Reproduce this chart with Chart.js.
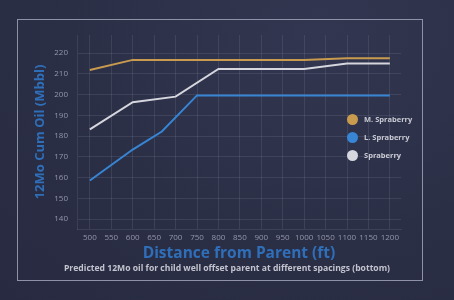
<!DOCTYPE html>
<html>
<head>
<meta charset="utf-8">
<script src="https://cdn.jsdelivr.net/npm/chart.js@4"></script>
<style>
  html, body { margin:0; padding:0; width:454px; height:300px; overflow:hidden; background:#2b2f46; }
  #wrap { position:relative; width:454px; height:300px;
    background: radial-gradient(ellipse at 70% 10%, #323650 0%, #2b2f46 55%, #272a40 100%); }
  #frame { position:absolute; left:17px; top:19px; width:406px; height:262px; border:1px solid #8f92a6; box-sizing:border-box; }
  canvas { position:absolute; left:0; top:0; }
  #legend { position:absolute; left:347px; top:110px; font-family:"Open Sans", sans-serif; font-weight:700; font-size:7.5px; color:#c9cad4; }
  #legend div { height:18px; display:flex; align-items:center; }
  #legend span.dot { display:inline-block; width:11px; height:11px; border-radius:50%; margin-right:6px; }
  #caption { position:absolute; left:0; width:454px; top:262px; text-align:center; font-family:"Open Sans", sans-serif; font-weight:700; font-size:8.6px; color:#c3c4cf; }
</style>
</head>
<body>
<div id="wrap">
  <div id="frame"></div>
  <canvas id="c" width="454" height="300"></canvas>
  <div id="legend"></div>
  <div id="caption">Predicted 12Mo oil for child well offset parent at different spacings (bottom)</div>
</div>
<script>
const xTicks = [500,550,600,650,700,750,800,850,900,950,1000,1050,1100,1150,1200];
const yTicks = [140,150,160,170,180,190,200,210,220];
const seriesNames = ["M. Spraberry","L. Spraberry","Spraberry"];
const mSprabX = [500,600,1000,1100,1200];
const mSprabY = [211.8,216.7,216.7,217.5,217.5];
const lSprabX = [500,600,668,750,1200];
const lSprabY = [158.6,173.5,182.2,199.6,199.6];
const sprabX  = [500,600,700,800,1000,1100,1200];
const sprabY  = [183.2,196.3,199.0,212.3,212.3,215.0,215.0];
const colors = ["#c99b4f","#3785d4","#d6d6de"];

const zip = (xs, ys) => xs.map((x,i)=>({x:x, y:ys[i]}));

const ds = [
  {label:seriesNames[0], data:zip(mSprabX,mSprabY), borderColor:colors[0], backgroundColor:colors[0]},
  {label:seriesNames[1], data:zip(lSprabX,lSprabY), borderColor:colors[1], backgroundColor:colors[1]},
  {label:seriesNames[2], data:zip(sprabX,sprabY), borderColor:colors[2], backgroundColor:colors[2]}
].map(d=>Object.assign(d,{showLine:true, borderWidth:2, pointRadius:0, tension:0, fill:false}));

const gridColor = "rgba(170,175,200,0.14)";
const tickColor = "#9496aa";

new Chart(document.getElementById('c'), {
  type:'scatter',
  data:{datasets:ds},
  options:{
    responsive:false, animation:false,
    layout:{padding:{left:0, right:53, top:35, bottom:0}},
    plugins:{legend:{display:false}, tooltip:{enabled:false}},
    scales:{
      x:{type:'linear', min:470, max:1226,
        afterBuildTicks:s=>{s.ticks = xTicks.map(v=>({value:v}));},
        afterFit:s=>{s.height = 71;},
        grid:{color:gridColor, drawTicks:false},
        border:{color:gridColor},
        ticks:{color:tickColor, font:{family:"Open Sans", size:8}, padding:4, maxRotation:0, autoSkip:false, callback:v=>String(v)},
        title:{display:true, text:"Distance from Parent (ft)", color:"#2f6fba", font:{family:"Open Sans", size:15.5, weight:'bold'}, padding:{top:0,bottom:37}}
      },
      y:{type:'linear', min:135.2, max:228.7,
        afterBuildTicks:s=>{s.ticks = yTicks.map(v=>({value:v}));},
        afterFit:s=>{s.width = 77;},
        grid:{color:gridColor, drawTicks:false},
        border:{color:gridColor},
        ticks:{color:tickColor, font:{family:"Open Sans", size:8}, padding:9, callback:v=>String(v)},
        title:{display:true, text:"12Mo Cum Oil (Mbbl)", color:"#2f6fba", font:{family:"Open Sans", size:13, weight:'bold'}, padding:{top:32,bottom:0}}
      }
    }
  }
});

const leg = document.getElementById('legend');
seriesNames.forEach((n,i)=>{
  const row = document.createElement('div');
  row.innerHTML = '<span class="dot" style="background:'+colors[i]+'"></span>'+n;
  leg.appendChild(row);
});
</script>
</body>
</html>
